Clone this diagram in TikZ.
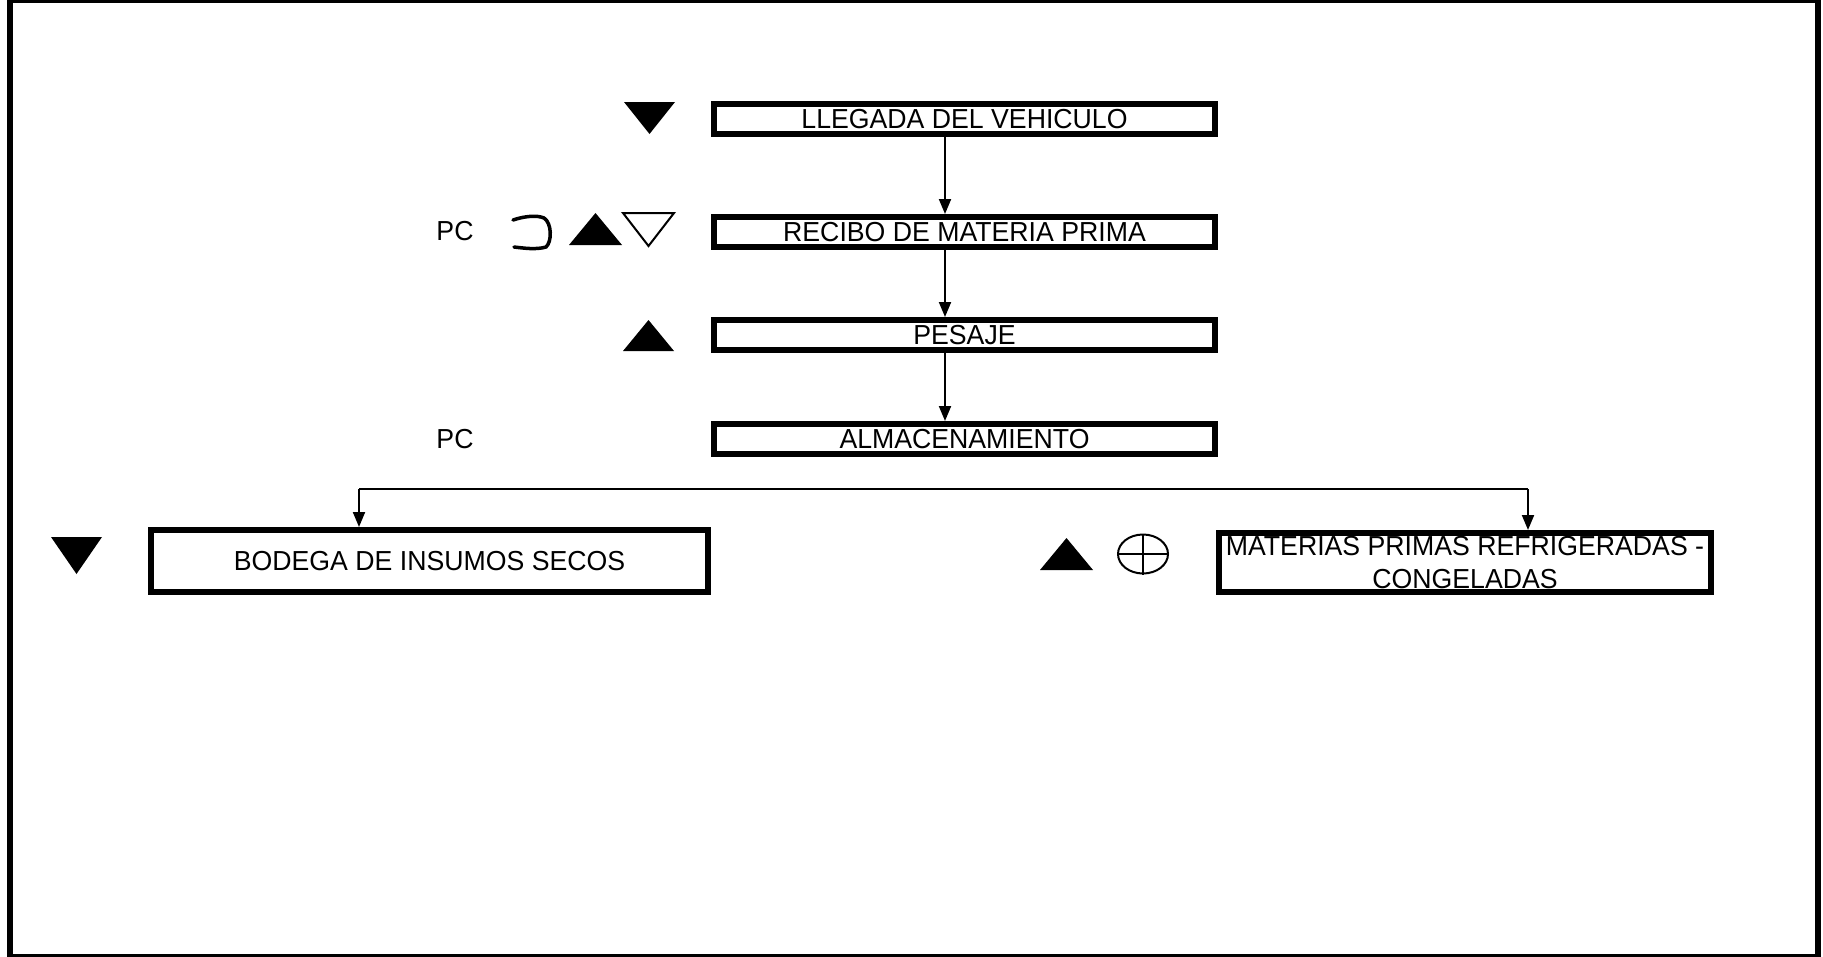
\documentclass[tikz,border=0pt]{standalone}
\usepackage{fontspec}
\setmainfont{Liberation Sans}
\newfontfamily\boxfont[FakeStretch=0.97]{Liberation Sans}
\usetikzlibrary{arrows.meta}
\begin{document}
\begin{tikzpicture}[x=1pt,y=-1pt,
  box/.style={draw,line width=6pt,rectangle,inner sep=0pt,font=\boxfont\fontsize{27.5}{33}\selectfont,align=center},
  lbl/.style={inner sep=0pt,font=\boxfont\fontsize{27.5}{30}\selectfont},
  conn/.style={line width=2pt,-{Triangle[length=15pt,width=12pt]}},
  filltri/.style={fill=black,draw=none},
  opentri/.style={draw,line width=2pt,fill=white,line join=miter},
  sym/.style={draw,line width=3.5pt}]
\useasboundingbox (0,0) rectangle (1823,956);
\clip (0,0) rectangle (1823,956);
\fill[white] (0,0) rectangle (1823,956);
\draw[line width=6pt] (10,0) rectangle (1818,957);

% boxes
\node[box,minimum width=501pt,minimum height=30pt] (b1) at (964.5,119) {LLEGADA DEL VEHICULO};
\node[box,minimum width=501pt,minimum height=30pt] (b2) at (964.5,232) {RECIBO DE MATERIA PRIMA};
\node[box,minimum width=501pt,minimum height=30pt] (b3) at (964.5,335) {PESAJE};
\node[box,minimum width=501pt,minimum height=30pt] (b4) at (964.5,439) {ALMACENAMIENTO};
\node[box,minimum width=557pt,minimum height=62pt] (b5) at (429.5,561) {BODEGA DE INSUMOS SECOS};
\node[box,minimum width=492pt,minimum height=59pt] (b6) at (1465,562.5) {MATERIAS PRIMAS REFRIGERADAS -\\CONGELADAS};

% connectors
\coordinate (ax) at (945,0);
\draw[conn] (b1.south -| ax) -- (b2.north -| ax);
\draw[conn] (b2.south -| ax) -- (b3.north -| ax);
\draw[conn] (b3.south -| ax) -- (b4.north -| ax);
\coordinate (hl) at (359,489);
\coordinate (hr) at (1528,489);
\draw[line width=2pt] (hl) -- (hr);
\draw[conn] (hl) -- (b5.north -| hl);
\draw[conn] (hr) -- (b6.north -| hr);

% labels
\node[lbl] (pc1) at (455,231) {PC};
\node[lbl] (pc2) at (455,439) {PC};

% symbols
\fill[filltri] (624,102) -- (675,102) -- (649.5,134) -- cycle;
\fill[filltri] (569,245) -- (622,245) -- (595.5,213) -- cycle;
\draw[opentri] (623,213) -- (674,213) -- (648.5,246) -- cycle;
\fill[filltri] (623,351) -- (674,351) -- (648.5,320) -- cycle;
\fill[filltri] (51,537) -- (102,537) -- (76.5,574) -- cycle;
\fill[filltri] (1040,570) -- (1093,570) -- (1066.5,538) -- cycle;
\draw[sym,line cap=round] (513,220) .. controls (525,216) and (537,215) .. (544,218) .. controls (552,223) and (552,242) .. (546,247) .. controls (536,250) and (523,248) .. (514,247);
\draw[line width=2pt] (1143,554) ellipse (25 and 19.5);
\draw[line width=2pt] (1118,554) -- (1168,554);
\draw[line width=2pt] (1143,534.5) -- (1143,575);
\end{tikzpicture}
\end{document}
